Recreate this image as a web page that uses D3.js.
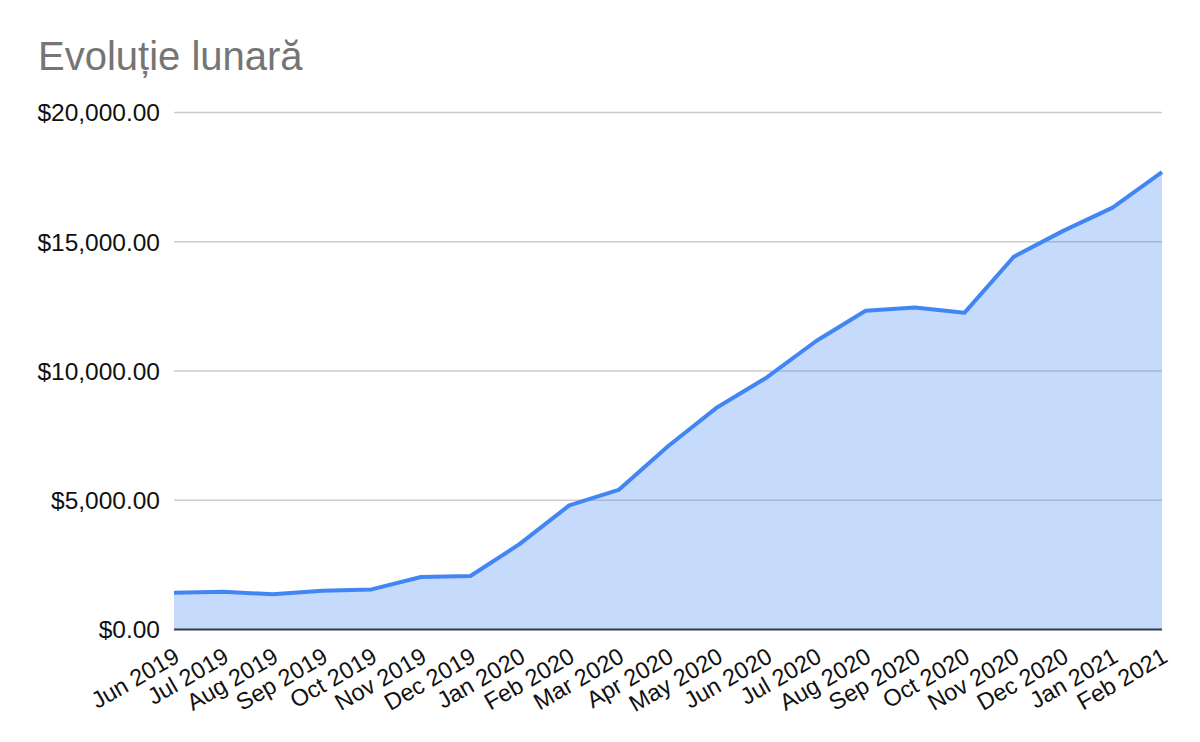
<!DOCTYPE html>
<html>
<head>
<meta charset="utf-8">
<script src="https://cdn.jsdelivr.net/npm/d3@7"></script>
<style>
  body { margin: 0; background: #fff; }
  svg { font-family: "Liberation Sans", Arial, sans-serif; }
</style>
</head>
<body>
<svg id="chart"></svg>
<script>
const months = ['Jun 2019', 'Jul 2019', 'Aug 2019', 'Sep 2019', 'Oct 2019', 'Nov 2019', 'Dec 2019',
  'Jan 2020', 'Feb 2020', 'Mar 2020', 'Apr 2020', 'May 2020', 'Jun 2020', 'Jul 2020', 'Aug 2020',
  'Sep 2020', 'Oct 2020', 'Nov 2020', 'Dec 2020', 'Jan 2021', 'Feb 2021'];
const values = [1425, 1460, 1360, 1500, 1550, 2030, 2070,
  3310, 4800, 5400, 7090, 8600, 9750, 11160, 12330,
  12460, 12250, 14420, 15420, 16320, 17690];
const yTicks = [0, 5000, 10000, 15000, 20000];

const w = 1200;
const h = 742;
const margin = { top: 113, right: 38, bottom: 113, left: 174 };

const svg = d3.select('#chart')
  .attr('width', w)
  .attr('height', h);

const xScale = d3.scalePoint()
  .domain(months)
  .range([margin.left, w - margin.right]);
const yScale = d3.scaleLinear()
  .domain([0, 20000])
  .range([h - margin.bottom + 0.5, margin.top - 0.5]);

const fmt = d3.format('$,.2f');

// title
svg.append('text')
  .attr('x', 38)
  .attr('y', 70)
  .attr('font-size', 40)
  .attr('fill', '#757575')
  .text('Evoluție lunară');

// gridlines
svg.append('g')
  .selectAll('line')
  .data(yTicks.slice(1))
  .join('line')
    .attr('x1', margin.left)
    .attr('x2', w - margin.right)
    .attr('y1', d => yScale(d))
    .attr('y2', d => yScale(d))
    .attr('stroke', '#cccccc')
    .attr('stroke-width', 1.5);

// y labels
svg.append('g')
  .selectAll('text')
  .data(yTicks)
  .join('text')
    .attr('x', 160)
    .attr('y', d => yScale(d))
    .attr('dy', '0.36em')
    .attr('text-anchor', 'end')
    .attr('font-size', 24.5)
    .attr('fill', '#111')
    .text(d => fmt(d));

// area + line
const area = d3.area()
  .x((_, i) => xScale(months[i]))
  .y0(yScale(0))
  .y1(d => yScale(d));
const line = d3.line()
  .x((_, i) => xScale(months[i]))
  .y(d => yScale(d));

svg.append('path')
  .datum(values)
  .attr('d', area)
  .attr('fill', '#4285f4')
  .attr('fill-opacity', 0.3);

svg.append('path')
  .datum(values)
  .attr('d', line)
  .attr('fill', 'none')
  .attr('stroke', '#4285f4')
  .attr('stroke-width', 4)
  .attr('stroke-linejoin', 'round');

// baseline
svg.append('line')
  .attr('x1', margin.left)
  .attr('x2', w - margin.right)
  .attr('y1', yScale(0))
  .attr('y2', yScale(0))
  .attr('stroke', '#333a48')
  .attr('stroke-width', 2);

// x labels
svg.append('g')
  .selectAll('text')
  .data(months)
  .join('text')
    .attr('transform', d => `translate(${xScale(d) + 7}, 661) rotate(-30)`)
    .attr('text-anchor', 'end')
    .attr('font-size', 23.5)
    .attr('fill', '#111')
    .text(d => d);
</script>
</body>
</html>
